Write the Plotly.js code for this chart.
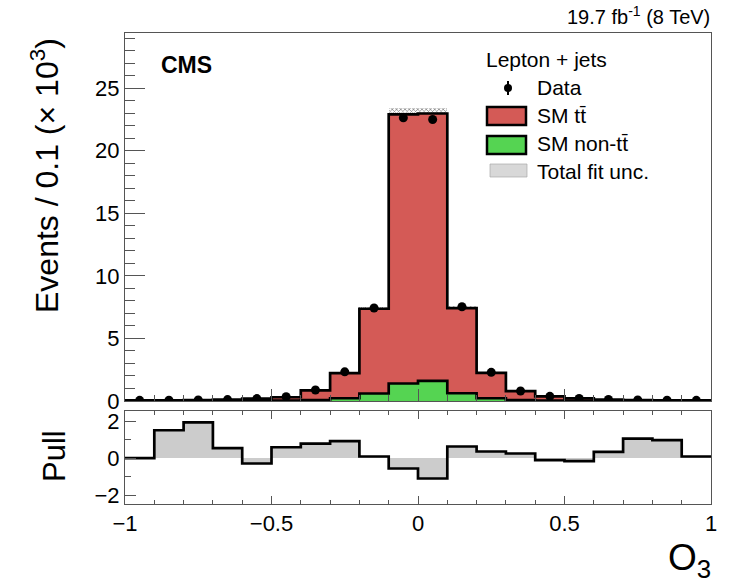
<!DOCTYPE html>
<html>
<head>
<meta charset="utf-8">
<script src="https://cdn.plot.ly/plotly-3.0.1.min.js"></script>
<style>html,body{margin:0;padding:0;background:#fff;}#plot{width:740px;height:587px;}</style>
</head>
<body>
<div id="plot"></div>
<script>
// ---- data (events in thousands per 0.1 bin) ----
const binCenters = [-0.95,-0.85,-0.75,-0.65,-0.55,-0.45,-0.35,-0.25,-0.15,-0.05,0.05,0.15,0.25,0.35,0.45,0.55,0.65,0.75,0.85,0.95];
const binWidth = 0.1;
const smNonTT = [0.005,0.005,0.01,0.01,0.02,0.03,0.08,0.22,0.60,1.40,1.60,0.62,0.22,0.08,0.03,0.02,0.01,0.01,0.005,0.005];
const smTT    = [0.045,0.05,0.06,0.10,0.17,0.27,0.77,2.01,6.77,21.50,21.37,6.80,2.03,0.71,0.34,0.19,0.11,0.07,0.055,0.045];
const dataVals = [0.05,0.06,0.08,0.115,0.19,0.34,0.88,2.33,7.43,22.62,22.49,7.53,2.29,0.80,0.37,0.20,0.125,0.08,0.065,0.05];
const fitUnc  = [0.002,0.002,0.003,0.004,0.006,0.01,0.025,0.06,0.16,0.47,0.47,0.16,0.06,0.025,0.01,0.006,0.004,0.003,0.002,0.002];
const pullVals = [0.0,1.51,1.93,0.54,-0.29,0.59,0.79,0.92,0.09,-0.56,-1.10,0.63,0.36,0.25,-0.11,-0.16,0.34,1.06,0.97,0.09];
const xTickVals = [-1,-0.5,0,0.5,1];
const xTickText = ['\u22121','\u22120.5','0','0.5','1'];

// ---- derived ----
const total = smNonTT.map((v,i)=>v+smTT[i]);
const edges = binCenters.map(c=>c-binWidth/2).concat([binCenters[binCenters.length-1]+binWidth/2]);
const stepY = arr => arr.concat([arr[arr.length-1]]);

const W=740,H=587;
const px=x=>x/W, py=y=>1-y/H;
const FONT="Liberation Sans, Arial, Helvetica, sans-serif";
const RED="#d45a56", GREEN="#55d452", AX="#555";

const traces = [
  {type:'bar', x:binCenters, base:total.map((t,i)=>t-fitUnc[i]), y:fitUnc.map(u=>2*u), width:binWidth,
   marker:{color:'rgba(255,255,255,0)', line:{width:0}, pattern:{shape:'x', fgcolor:'#888', size:3, solidity:0.45}},
   xaxis:'x', yaxis:'y', hoverinfo:'skip'},
  {type:'bar', x:binCenters, y:smNonTT, width:binWidth, marker:{color:GREEN, line:{width:0}}, xaxis:'x', yaxis:'y'},
  {type:'bar', x:binCenters, base:smNonTT, y:smTT, width:binWidth, marker:{color:RED, line:{width:0}}, xaxis:'x', yaxis:'y'},
  {type:'scatter', mode:'lines', x:edges, y:stepY(smNonTT), line:{shape:'hv', color:'#000', width:2.7}, xaxis:'x', yaxis:'y'},
  {type:'scatter', mode:'lines', x:edges, y:stepY(total), line:{shape:'hv', color:'#000', width:2.7}, xaxis:'x', yaxis:'y'},
  {type:'scatter', mode:'markers', x:binCenters, y:dataVals, marker:{color:'#000', size:9}, xaxis:'x', yaxis:'y'},
  {type:'bar', x:binCenters, y:pullVals, width:binWidth, marker:{color:'#cccccc', line:{width:0}}, xaxis:'x2', yaxis:'y2'},
  {type:'scatter', mode:'lines', x:edges, y:stepY(pullVals), line:{shape:'hv', color:'#000', width:2.7}, xaxis:'x2', yaxis:'y2'}
];

const xdom=[px(125),px(711)];
const layout = {
  width:W, height:H, margin:{l:0,r:0,t:0,b:0}, showlegend:false,
  paper_bgcolor:'#fff', plot_bgcolor:'#fff', barmode:'overlay', bargap:0,
  font:{family:FONT, color:'#000'},
  xaxis:{domain:xdom, anchor:'y', range:[-1,1], showticklabels:false, ticks:'inside', tickvals:xTickVals, ticklen:12,
         tickcolor:AX, minor:{dtick:0.1, ticklen:6, tickcolor:AX, ticks:'inside'}, showline:true, mirror:true, linecolor:AX, linewidth:1,
         showgrid:false, zeroline:false},
  yaxis:{domain:[py(401),py(33)], anchor:'x', range:[0,29.4], dtick:5, tick0:0, ticks:'inside', ticklen:20, tickcolor:AX,
         minor:{dtick:1, ticklen:10, tickcolor:AX, ticks:'inside'}, showline:true, mirror:true, linecolor:AX, linewidth:1,
         showgrid:false, zeroline:false, tickfont:{size:22, family:FONT, color:'#000'}},
  xaxis2:{domain:xdom, anchor:'y2', range:[-1,1], tickvals:xTickVals, ticktext:xTickText, ticks:'inside', ticklen:8, tickcolor:AX,
         minor:{dtick:0.1, ticklen:4, tickcolor:AX, ticks:'inside'}, showline:true, mirror:'ticks', linecolor:AX, linewidth:1,
         showgrid:false, zeroline:false, tickfont:{size:22, family:FONT, color:'#000'}},
  yaxis2:{domain:[py(504),py(411)], anchor:'x2', range:[-2.48,2.55], dtick:2, tick0:0, ticks:'inside', ticklen:11, tickcolor:AX,
         minor:{dtick:1, ticklen:6, tickcolor:AX, ticks:'inside'}, showline:true, mirror:true, linecolor:AX, linewidth:1,
         showgrid:false, zeroline:false, tickfont:{size:22, family:FONT, color:'#000'}},
  annotations:[
    {xref:'paper', yref:'paper', x:px(45), y:py(176), text:'Events / 0.1 (\u00d7 10<sup>3</sup>)', textangle:-90, showarrow:false,
     xanchor:'center', yanchor:'middle', font:{size:32, family:FONT}},
    {xref:'paper', yref:'paper', x:px(54), y:py(456), text:'Pull', textangle:-90, showarrow:false,
     xanchor:'center', yanchor:'middle', font:{size:31, family:FONT}},
    {xref:'paper', yref:'paper', x:px(713), y:py(560), text:'O<sub>3</sub>', showarrow:false,
     xanchor:'right', yanchor:'middle', font:{size:37, family:FONT}},
    {xref:'paper', yref:'paper', x:px(159), y:py(65), text:'<b>CMS</b>', showarrow:false,
     xanchor:'left', yanchor:'middle', font:{size:23, family:FONT}},
    {xref:'paper', yref:'paper', x:px(712), y:py(15), text:'19.7 fb<sup>-1</sup> (8 TeV)', showarrow:false,
     xanchor:'right', yanchor:'middle', font:{size:20, family:FONT}},
    {xref:'paper', yref:'paper', x:px(484), y:py(60), text:'Lepton + jets', showarrow:false,
     xanchor:'left', yanchor:'middle', font:{size:21, family:FONT}},
    {xref:'paper', yref:'paper', x:px(535), y:py(87), text:'Data', showarrow:false,
     xanchor:'left', yanchor:'middle', font:{size:21, family:FONT}},
    {xref:'paper', yref:'paper', x:px(535), y:py(116), text:'SM tt\u0304', showarrow:false,
     xanchor:'left', yanchor:'middle', font:{size:21, family:FONT}},
    {xref:'paper', yref:'paper', x:px(535), y:py(144), text:'SM non-tt\u0304', showarrow:false,
     xanchor:'left', yanchor:'middle', font:{size:21, family:FONT}},
    {xref:'paper', yref:'paper', x:px(535), y:py(171), text:'Total fit unc.', showarrow:false,
     xanchor:'left', yanchor:'middle', font:{size:21, family:FONT}}
  ],
  shapes:[
    {type:'line', xref:'paper', yref:'paper', x0:px(508), x1:px(508), y0:py(81), y1:py(95), line:{color:'#000', width:2}},
    {type:'circle', xref:'paper', yref:'paper', x0:px(504), x1:px(512), y0:py(84), y1:py(92), fillcolor:'#000', line:{color:'#000', width:0}},
    {type:'rect', xref:'paper', yref:'paper', x0:px(487), x1:px(526), y0:py(107), y1:py(125), fillcolor:RED, line:{color:'#000', width:2.5}},
    {type:'rect', xref:'paper', yref:'paper', x0:px(487), x1:px(526), y0:py(136), y1:py(154), fillcolor:GREEN, line:{color:'#000', width:2.5}},
    {type:'rect', xref:'paper', yref:'paper', x0:px(490), x1:px(527), y0:py(164), y1:py(177), fillcolor:'#d8d8d8', line:{color:'#aaa', width:0.7}}
  ]
};
Plotly.newPlot('plot', traces, layout, {staticPlot:true, displayModeBar:false});
</script>
</body>
</html>
